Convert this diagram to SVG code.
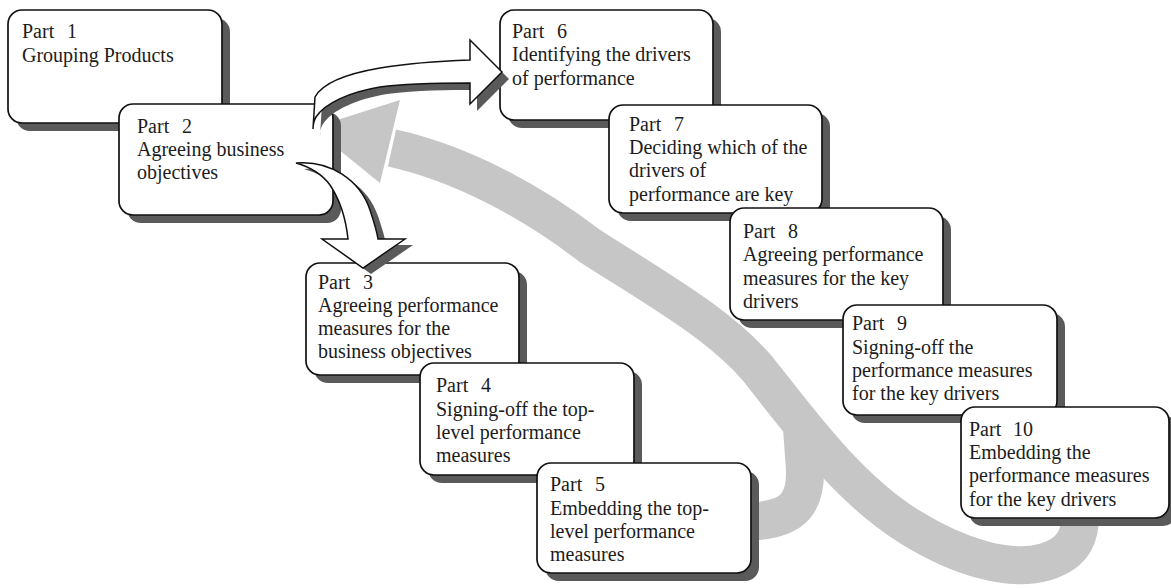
<svg xmlns="http://www.w3.org/2000/svg" width="1171" height="588" viewBox="0 0 1171 588">
  <style>
    .shadow { fill: #5a5a5a; }
    .box { fill: #ffffff; stroke: #111111; stroke-width: 1.7; }
    .label { font-family: "Liberation Serif", "Times New Roman", serif; font-size: 20px; fill: #1c1c1c; }
    .loop { fill: none; stroke: #c6c6c6; stroke-width: 38; stroke-linecap: butt; }
    .loophead { fill: #c6c6c6; }
    .bent { fill: #ffffff; stroke: #111111; stroke-width: 1.5; stroke-linejoin: miter; }
  </style>
  <defs>
    <path id="arrowUp" d="M 315 97 C 322 84, 345 74, 380 68 C 410 63, 440 61, 470 60 L 470 40 L 502 72 L 470 104 L 470 83 C 440 83, 410 83, 380 87 C 350 92, 325 103, 316 117 C 313 122, 313 126, 313 129 Z"/>
    <path id="arrowDown" d="M 296 163 C 330 160, 360 180, 370 210 C 375 225, 377 232, 378 239 L 405 239 L 363 268 L 322 239 L 348 239 C 346 220, 340 200, 330 185 C 322 174, 310 167, 296 163 Z"/>
  </defs>

  <rect width="1171" height="588" fill="#ffffff"/>

  <!-- connectors -->
  <g id="connectors">
    <!-- wide grey feedback loop from parts 5 and 10 back to part 2 -->
    <g id="feedback-loop">
      <path class="loop" d="M 392 148 C 460 163, 530 200, 590 246 C 655 288, 728 328, 765 378 C 802 425, 850 490, 910 527 C 960 558, 1010 572, 1045 562 C 1075 553, 1082 535, 1080 505"/>
      <path class="loop" d="M 735 522 C 785 522, 806 512, 805 470 L 802 428"/>
      <polygon class="loophead" points="312,128 400,100 380,183"/>
    </g>
  </g>

  <g id="part1">
    <rect class="shadow" x="16" y="18" width="214" height="113" rx="14"/>
    <rect class="box" x="8" y="10" width="214" height="113" rx="14"/>
    <text class="label" x="22" y="38">Part<tspan x="67">1</tspan></text>
    <text class="label" x="22" y="62">Grouping Products</text>
  </g>

  <g id="part2">
    <rect class="shadow" x="127" y="112" width="214" height="111" rx="14"/>
    <rect class="box" x="119" y="104" width="214" height="111" rx="14"/>
    <text class="label" x="137" y="133">Part<tspan x="182">2</tspan></text>
    <text class="label" x="137" y="156">Agreeing business</text>
    <text class="label" x="137" y="179">objectives</text>
  </g>

  <g id="part3">
    <rect class="shadow" x="314" y="271" width="213" height="112" rx="14"/>
    <rect class="box" x="306" y="263" width="213" height="112" rx="14"/>
    <text class="label" x="318" y="289">Part<tspan x="363">3</tspan></text>
    <text class="label" x="318" y="312">Agreeing performance</text>
    <text class="label" x="318" y="335">measures for the</text>
    <text class="label" x="318" y="358">business objectives</text>
  </g>

  <g id="part4">
    <rect class="shadow" x="428" y="371" width="214" height="112" rx="14"/>
    <rect class="box" x="420" y="363" width="214" height="112" rx="14"/>
    <text class="label" x="436" y="392">Part<tspan x="481">4</tspan></text>
    <text class="label" x="436" y="416">Signing-off the top-</text>
    <text class="label" x="436" y="439">level performance</text>
    <text class="label" x="436" y="462">measures</text>
  </g>

  <g id="part5">
    <rect class="shadow" x="545" y="471" width="214" height="110" rx="14"/>
    <rect class="box" x="537" y="463" width="214" height="110" rx="14"/>
    <text class="label" x="550" y="491">Part<tspan x="595">5</tspan></text>
    <text class="label" x="550" y="515">Embedding the top-</text>
    <text class="label" x="550" y="538">level performance</text>
    <text class="label" x="550" y="561">measures</text>
  </g>

  <g id="part6">
    <rect class="shadow" x="508" y="18" width="213" height="110" rx="14"/>
    <rect class="box" x="500" y="10" width="213" height="110" rx="14"/>
    <text class="label" x="512" y="38">Part<tspan x="557">6</tspan></text>
    <text class="label" x="512" y="61">Identifying the drivers</text>
    <text class="label" x="512" y="85">of performance</text>
  </g>

  <g id="part7">
    <rect class="shadow" x="617" y="113" width="213" height="108" rx="14"/>
    <rect class="box" x="609" y="105" width="213" height="108" rx="14"/>
    <text class="label" x="629" y="131">Part<tspan x="674">7</tspan></text>
    <text class="label" x="629" y="154">Deciding which of the</text>
    <text class="label" x="629" y="177">drivers of</text>
    <text class="label" x="629" y="201">performance are key</text>
  </g>

  <g id="part8">
    <rect class="shadow" x="738" y="216" width="213" height="112" rx="14"/>
    <rect class="box" x="730" y="208" width="213" height="112" rx="14"/>
    <text class="label" x="743" y="238">Part<tspan x="788">8</tspan></text>
    <text class="label" x="743" y="261">Agreeing performance</text>
    <text class="label" x="743" y="285">measures for the key</text>
    <text class="label" x="743" y="308">drivers</text>
  </g>

  <g id="part9">
    <rect class="shadow" x="851" y="313" width="214" height="110" rx="14"/>
    <rect class="box" x="843" y="305" width="214" height="110" rx="14"/>
    <text class="label" x="852" y="330">Part<tspan x="897">9</tspan></text>
    <text class="label" x="852" y="354">Signing-off the</text>
    <text class="label" x="852" y="377">performance measures</text>
    <text class="label" x="852" y="400">for the key drivers</text>
  </g>

  <g id="part10">
    <rect class="shadow" x="969" y="415" width="208" height="111" rx="14"/>
    <rect class="box" x="961" y="407" width="208" height="111" rx="14"/>
    <text class="label" x="969" y="436">Part<tspan x="1013">10</tspan></text>
    <text class="label" x="969" y="459">Embedding the</text>
    <text class="label" x="969" y="482">performance measures</text>
    <text class="label" x="969" y="506">for the key drivers</text>
  </g>

  <!-- hollow bent arrows leaving part 2 -->
  <g id="connectors-bent">
    <g id="arrow-2-6">
      <use href="#arrowUp" class="shadow" transform="translate(7,7)"/>
      <use href="#arrowUp" class="bent"/>
    </g>
    <g id="arrow-2-3">
      <use href="#arrowDown" class="shadow" transform="translate(8,6)"/>
      <use href="#arrowDown" class="bent"/>
    </g>
  </g>
</svg>
